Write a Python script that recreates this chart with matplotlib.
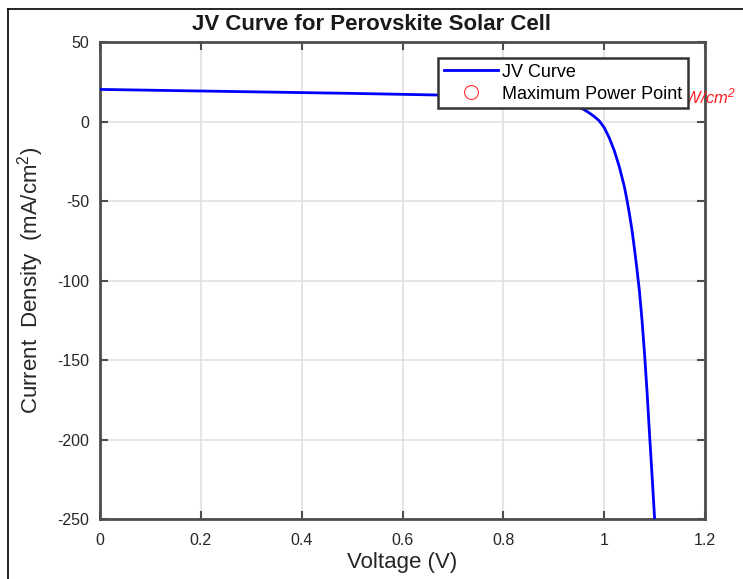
import matplotlib
matplotlib.use('Agg')
import matplotlib.pyplot as plt
from matplotlib.lines import Line2D

plt.rcParams['font.family'] = ['Liberation Sans', 'DejaVu Sans']
plt.rcParams['mathtext.default'] = 'regular'
plt.rcParams['axes.unicode_minus'] = False

# JV points
voltage = [0.0, 0.1, 0.2, 0.3, 0.4, 0.5, 0.6, 0.7, 0.75, 0.8, 0.85, 0.9, 0.92,
           0.935, 0.95, 0.96, 0.97, 0.98, 0.99, 1.0, 1.01, 1.02, 1.03, 1.04,
           1.045, 1.05, 1.055, 1.06, 1.065, 1.07, 1.075, 1.08, 1.085, 1.09,
           1.095, 1.1]
current = [20.2, 19.7, 19.2, 18.7, 18.2, 17.7, 17.1, 16.5, 16.1, 15.6, 14.7, 13.3, 12.0,
           10.7, 9.0, 7.5, 5.5, 3.2, 0.5, -3.8, -10.2, -18.3, -28.5, -41.0,
           -49.0, -58.0, -68.0, -80.0, -93.0, -107.0, -125.0, -146.0, -170.0, -197.0,
           -223.0, -250.0]

# maximum power point (hidden under the legend in the reference)
v_mpp = 0.85
j_mpp = 14.7
mpp_label = '  Pmax = 12.41 W/cm$^2$'

x_ticks = [0, 0.2, 0.4, 0.6, 0.8, 1, 1.2]
x_tick_labels = ['0', '0.2', '0.4', '0.6', '0.8', '1', '1.2']
y_ticks = [50, 0, -50, -100, -150, -200, -250]

fig = plt.figure(figsize=(7.43, 5.79), dpi=100)
ax = fig.add_axes([0.1346, 0.1036, 0.8143, 0.8238])

ax.plot(voltage, current, color=(0, 0, 1), linewidth=2, label='JV Curve', zorder=3)
ax.plot([v_mpp], [j_mpp], 'o', markerfacecolor='none', markeredgecolor='#ff3030',
        markeredgewidth=0.8, markersize=10, label='Maximum Power Point', zorder=2)
ax.text(1.051, 0.886, mpp_label, color='#ff2020', fontsize=12, fontstyle='italic',
        ha='right', va='center', transform=ax.transAxes, zorder=4, clip_on=False)

ax.set_xlim(0, 1.2)
ax.set_ylim(-250, 50)
ax.set_xticks(x_ticks)
ax.set_xticklabels(x_tick_labels)
ax.set_yticks(y_ticks)
ax.grid(True, color='#e0e0e0', linewidth=1.2)
ax.set_axisbelow(True)
ax.tick_params(direction='in', length=6, width=1.5, top=True, right=True,
               labelsize=11.5, color='#4d4d4d', labelcolor='#262626', pad=8)
ax.tick_params(axis='x', pad=10)
for s in ax.spines.values():
    s.set_color('#4d4d4d')
    s.set_linewidth(2)

ax.set_xlabel('Voltage (V)', fontsize=16, color='#262626', labelpad=3)
ax.set_ylabel('Current  Density  (mA/cm$^2$)', fontsize=16, color='#262626', labelpad=8)
fig.suptitle('JV Curve for Perovskite Solar Cell', x=0.5, y=0.975, fontsize=16,
             fontweight='bold', color='#1a1a1a')

leg = ax.legend(loc='upper right', bbox_to_anchor=(0.972, 0.966), fontsize=13,
                handlelength=3.0, handletextpad=0.25, borderpad=0.3, labelspacing=0.28,
                fancybox=False, framealpha=1, borderaxespad=0)
leg.get_frame().set_edgecolor('#333333')
leg.get_frame().set_linewidth(1.8)
leg.set_zorder(5)

# thin frame lines along left and top of the figure
fig.add_artist(Line2D([8 / 743, 8 / 743], [0, 1 - 9 / 579], color='black', linewidth=1.2,
                      transform=fig.transFigure))
fig.add_artist(Line2D([8 / 743, 1], [1 - 9 / 579, 1 - 9 / 579], color='black', linewidth=1.2,
                      transform=fig.transFigure))

fig.savefig('out.png', dpi=100)
